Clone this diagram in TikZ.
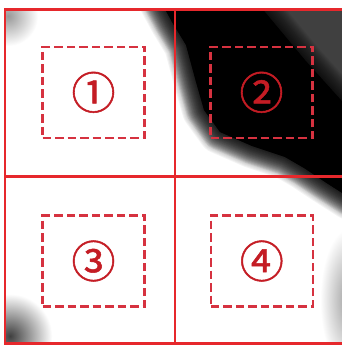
\documentclass[tikz,border=0pt]{standalone}
\usepackage{fontspec}
\newfontfamily\circfont[FakeBold=1.2]{Noto Sans CJK SC}
\usetikzlibrary{positioning}
\definecolor{gridred}{RGB}{230,40,44}
\definecolor{zonered}{RGB}{214,50,64}
\definecolor{numred}{RGB}{196,28,36}

\begin{document}
\begin{tikzpicture}[x=1pt,y=-1pt,
    cell/.style={draw=gridred,line width=2.6pt,inner sep=0pt,minimum width=170pt,minimum height=167pt},
    zone/.style={draw=zonered,line width=2.2pt,dash pattern=on 8.5pt off 4pt,inner sep=0pt,minimum width=102pt,minimum height=91pt,text=numred,font=\circfont\fontsize{44}{44}\selectfont},
    soft/.style={line join=round,opacity=0.06}]
  \useasboundingbox (0,0) rectangle (342,345);
  \begin{scope}
    \clip (5,9) rectangle (342,343);
    % grey image behind the grid
    \fill[white] (5,9) rectangle (342,343);
    \shade[inner color=black!40,outer color=white] (8,16) circle (30);
    \shade[inner color=black!75,outer color=white] (10,336) ellipse (42 and 42);
    \shade[inner color=black!40,outer color=white] (350,300) ellipse (30 and 72);
    \path[save path=\darkarea] (160,0) -- (172,22) -- (186,45) -- (196,82) -- (204,110) -- (220,132) -- (252,146) -- (285,157) -- (304,168) -- (325,182) -- (350,198) -- (350,0) -- cycle;
    \foreach \w in {44,42,...,2} \path[draw=black!75,soft,line width=\w pt,use path=\darkarea];
    \path[fill=black!75,use path=\darkarea];
    \path[save path=\darkcore] (160,0) -- (172,22) -- (186,45) -- (196,82) -- (204,110) -- (220,132) -- (252,146) -- (285,157) -- (304,168) -- (325,182) -- (350,198) -- (350,110) -- (305,60) -- (255,0) -- cycle;
    \foreach \w in {36,34,...,2} \path[draw=black,soft,line width=\w pt,use path=\darkcore];
    \path[fill=black,use path=\darkcore];
  \end{scope}
  % grid
  \node[cell] (c1) at (90,93) {};
  \node[cell] (c2) at (260,93) {};
  \node[cell] (c3) at (90,260) {};
  \node[cell] (c4) at (260,260) {};
  % dashed zones
  \node[zone] (z1) at (93.5,92.3) {①};
  \node[zone] (z2) at (261.5,92.3) {②};
  \node[zone] (z3) at (93.5,261) {③};
  \node[zone] (z4) at (261.8,261) {④};
\end{tikzpicture}
\end{document}
